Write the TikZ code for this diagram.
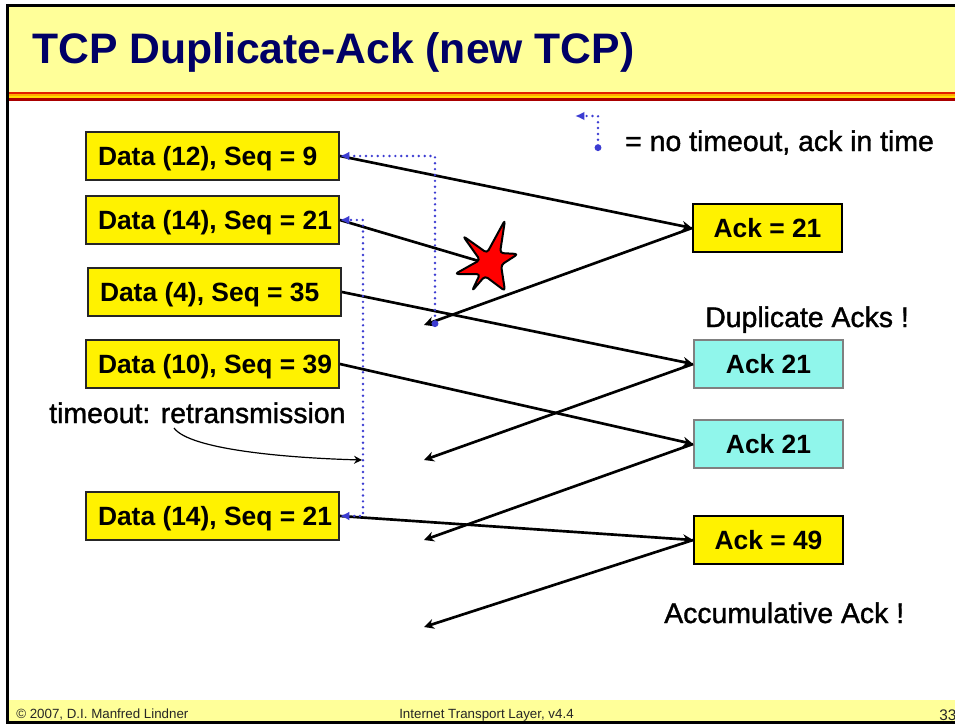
\documentclass[tikz,border=0pt]{standalone}
\usepackage{fontspec}
\setmainfont{Liberation Sans}
\newfontfamily\notefont[FakeBold=1.3]{Liberation Sans}
\usetikzlibrary{arrows.meta}
\definecolor{titlenavy}{RGB}{0,0,102}
\definecolor{bandyellow}{RGB}{255,255,153}
\definecolor{dupcyan}{RGB}{144,246,235}
\definecolor{dotblue}{RGB}{60,60,210}
\definecolor{stripedark}{RGB}{170,0,0}
\definecolor{stripered}{RGB}{225,30,0}
\definecolor{stripeorange}{RGB}{255,170,0}
\definecolor{stripegold}{RGB}{255,220,0}
\tikzset{
  databox/.style={draw=black!85, fill=yellow, line width=1.4pt, minimum width=189.75pt, minimum height=36pt,
    inner xsep=3.875pt, inner ysep=0pt, text width=182pt, align=flush left, text height=16pt, text depth=1.4pt,
    execute at begin node={\hspace*{5.125pt}}, font=\fontsize{19.8}{22}\bfseries},
  ackbox/.style={draw=black, fill=yellow, line width=1.4pt, minimum width=111.75pt, minimum height=36pt,
    inner sep=0pt, text height=15pt, text depth=1.5pt, font=\fontsize{19.8}{22}\bfseries},
  dupbox/.style={ackbox, draw=black!50, fill=dupcyan},
  note/.style={anchor=base west, inner sep=0pt, font=\fontsize{21.3}{24}\notefont},
  foot/.style={anchor=base west, inner sep=0pt, font=\fontsize{10}{12}\selectfont, text=black!85},
  msg/.style={line width=2pt, -{Stealth[length=7.5pt,width=7.5pt]}},
  timer/.style={dotblue, line width=2pt, line cap=round, dash pattern=on 0pt off 4.4pt}
}
\begin{document}
\begin{tikzpicture}[x=0.75pt,y=-0.75pt]
\useasboundingbox (0,0) rectangle (955,724);
\fill[white] (0,0) rectangle (955,724);

\fill[bandyellow] (7,6) rectangle (955,92);
\fill[bandyellow] (9,700) rectangle (955,721);
\fill[stripered] (6,92) rectangle (955,94);
\fill[stripeorange] (6,94) rectangle (955,96);
\fill[stripegold] (6,96) rectangle (955,98);
\fill[stripedark] (6,98) rectangle (955,100.5);
\draw[line width=2.2pt] (956,5.5) -- (7.5,5.5) -- (7.5,722.5) -- (956,722.5);

\node[anchor=base west, inner sep=0pt, text=titlenavy, font=\fontsize{32}{36}\bfseries] (title) at (32,64) {TCP Duplicate-Ack (new TCP)};

\node[databox] (seqnine) at (212.5,156) {Data (12), Seq = 9};
\node[databox] (seqtwentyone) at (212.5,220) {Data (14), Seq = 21};
\node[databox] (seqthirtyfive) at (214.5,292) {Data (4), Seq = 35};
\node[databox] (seqthirtynine) at (212.5,364) {Data (10), Seq = 39};
\node[databox] (seqretrans) at (212.5,516) {Data (14), Seq = 21};

\node[ackbox] (ackfirst) at (767.5,228) {Ack = 21};
\node[dupbox] (ackdupa) at (768.5,364) {Ack 21};
\node[dupbox] (ackdupb) at (768.5,444) {Ack 21};
\node[ackbox] (acklast) at (768.5,540) {Ack = 49};

\coordinate (lost) at (482,262);
\coordinate (backa) at (424,325);
\coordinate (backb) at (424,460);
\coordinate (backc) at (424,540);
\coordinate (backd) at (424,627);
\coordinate (turna) at (435,327);
\coordinate (turnb) at (363,220);
\coordinate (keya) at (598,151);
\coordinate (keyb) at (575,116);
\coordinate (curvestart) at (174,428);
\coordinate (curveend) at (362,460);

\draw[msg] (seqnine.east) -- (ackfirst.west);
\draw[line width=2pt] (seqtwentyone.east) -- (lost);
\draw[msg] (seqthirtyfive.east) -- (ackdupa.west);
\draw[msg] (seqthirtynine.east) -- (ackdupb.west);
\draw[msg] (seqretrans.east) -- (acklast.west);

\draw[msg] (ackfirst.west) -- (backa);
\draw[msg] (ackdupa.west) -- (backb);
\draw[msg] (ackdupb.west) -- (backc);
\draw[msg] (acklast.west) -- (backd);

\draw[black, fill=red, line width=1.5pt, line join=round, rounded corners=2.5pt] (463,236) -- (487,253) -- (505,220) -- (500,253) -- (518,254) -- (501,265) -- (505,291) -- (485,276) -- (472,291) -- (480,274) -- (455,274) -- (480,260) -- cycle;

\draw[timer, {Circle[length=5pt]}-{Latex[length=7pt,width=6.5pt]}] (turna) |- (seqnine.east);
\draw[timer, {Latex[length=7pt,width=6.5pt]}-{Latex[length=7pt,width=6.5pt]}] (seqretrans.east) -| (turnb) -- (seqtwentyone.east);
\draw[timer, {Circle[length=5pt]}-{Latex[length=7pt,width=6.5pt]}] (keya) |- (keyb);

\draw[line width=0.9pt, -{Stealth[length=6pt,width=6pt]}] (curvestart) .. controls (190,450) and (290,458) .. (curveend);

\node[note] (keytext) at (625,151) {= no timeout, ack in time};
\node[note] (duptext) at (705,327) {Duplicate Acks !};
\node[note] (timeouttext) at (49,423) {timeout: retransmission};
\node[note] (accumtext) at (664,623) {Accumulative Ack !};

\node[foot] (footleft) at (16,718) {© 2007, D.I. Manfred Lindner};
\node[foot] (footmid) at (399,718) {Internet Transport Layer, v4.4};
\node[foot, font=\fontsize{11.5}{12}\selectfont] (footpage) at (939,720.5) {33};
\end{tikzpicture}
\end{document}
